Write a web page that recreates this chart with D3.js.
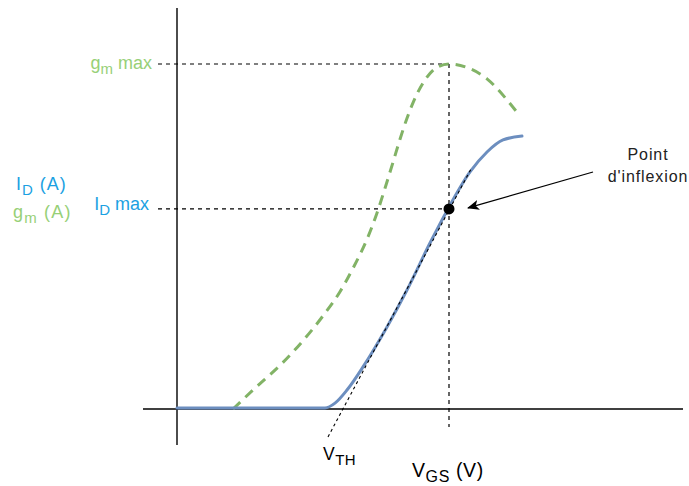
<!DOCTYPE html>
<html>
<head>
<meta charset="utf-8">
<script src="https://cdn.jsdelivr.net/npm/d3@7"></script>
<style>
  html, body { margin: 0; padding: 0; background: #fff; }
  svg { display: block; font-family: "Liberation Sans", Arial, Helvetica, sans-serif; }
</style>
</head>
<body>
<svg id="chart" width="689" height="486"></svg>
<script>
// ---- data (VGS in arbitrary volts, currents normalised to gm max = 1) ----
const gmVgs = [1.12, 1.52, 2.12, 2.52, 2.92, 3.26, 3.52, 3.80, 4.00, 4.16, 4.32, 4.46, 4.60, 4.80, 5.00, 5.22, 5.44, 5.80, 6.20, 6.60, 6.86];
const gmVal = [0.000, 0.055, 0.135, 0.198, 0.270, 0.340, 0.408, 0.492, 0.568, 0.640, 0.715, 0.782, 0.843, 0.913, 0.962, 0.992, 1.000, 0.990, 0.957, 0.896, 0.849];

const idVgs = [0.00, 1.46, 2.96, 3.16, 3.40, 3.72, 4.20, 4.60, 5.06, 5.42, 5.86, 6.20, 6.52, 6.90];
const idVal = [0.003, 0.003, 0.003, 0.017, 0.055, 0.122, 0.238, 0.345, 0.481, 0.580, 0.687, 0.745, 0.780, 0.791];

const gmMax = 1.0;            // gm max level
const idAtInflexion = 0.58;   // ID max (inflexion point)
const vgsInflexion = 5.44;    // VGS at inflexion / gm max
const tangentVgs = [3.02, 5.90];
const tangentVal = [-0.081, 0.701];

const labels = {
  gmMax: ["g", "m", " max"],
  idMax: ["I", "D", " max"],
  idAxis: ["I", "D", " (A)"],
  gmAxis: ["g", "m", " (A)"],
  vth: ["V", "TH", ""],
  vgs: ["V", "GS", " (V)"],
  point: ["Point", "d'inflexion"]
};

// ---- scales ----
const x = d3.scaleLinear().domain([0, 10]).range([177, 677]);
const y = d3.scaleLinear().domain([0, 1]).range([409, 64]);

const svg = d3.select("#chart");

const green = "#82b366", greenText = "#97d077";
const blue = "#6c8ebf", blueText = "#1ba1e2";

// ---- axes (plain lines, no ticks) ----
svg.append("line").attr("x1", x(-0.68)).attr("x2", x(10.12))
  .attr("y1", y(0)).attr("y2", y(0)).attr("stroke", "#000").attr("stroke-width", 1.4);
svg.append("line").attr("x1", x(0)).attr("x2", x(0))
  .attr("y1", y(1.162)).attr("y2", y(-0.104)).attr("stroke", "#000").attr("stroke-width", 1.4);

// ---- reference dashed lines ----
const refDash = "4,4";
svg.append("line").attr("x1", x(-0.38)).attr("x2", x(vgsInflexion))
  .attr("y1", y(gmMax)).attr("y2", y(gmMax))
  .attr("stroke", "#000").attr("stroke-width", 1.2).attr("stroke-dasharray", refDash);
svg.append("line").attr("x1", x(-0.38)).attr("x2", x(vgsInflexion))
  .attr("y1", y(idAtInflexion)).attr("y2", y(idAtInflexion))
  .attr("stroke", "#000").attr("stroke-width", 1.2).attr("stroke-dasharray", refDash);
svg.append("line").attr("x1", x(vgsInflexion)).attr("x2", x(vgsInflexion))
  .attr("y1", y(gmMax)).attr("y2", y(-0.052))
  .attr("stroke", "#000").attr("stroke-width", 1.2).attr("stroke-dasharray", refDash);

// ---- curves ----
const line = d3.line().x(d => x(d[0])).y(d => y(d[1])).curve(d3.curveMonotoneX);

svg.append("path").datum(gmVgs.map((v, i) => [v, gmVal[i]]))
  .attr("d", line).attr("fill", "none").attr("stroke", green)
  .attr("stroke-width", 3).attr("stroke-dasharray", "10,7");

svg.append("path").datum(idVgs.map((v, i) => [v, idVal[i]]))
  .attr("d", line).attr("fill", "none").attr("stroke", blue)
  .attr("stroke-width", 3).attr("stroke-linecap", "round");

// tangent
svg.append("line").attr("x1", x(tangentVgs[0])).attr("x2", x(tangentVgs[1]))
  .attr("y1", y(tangentVal[0])).attr("y2", y(tangentVal[1]))
  .attr("stroke", "#000").attr("stroke-width", 1.1).attr("stroke-dasharray", "3,3");

// inflexion point
svg.append("circle").attr("cx", x(vgsInflexion)).attr("cy", y(idAtInflexion))
  .attr("r", 5.5).attr("fill", "#000");

// ---- arrow ----
svg.append("defs").append("marker").attr("id", "arr")
  .attr("viewBox", "0 0 12 10").attr("refX", 11).attr("refY", 5)
  .attr("markerWidth", 12).attr("markerHeight", 10).attr("markerUnits", "userSpaceOnUse")
  .attr("orient", "auto")
  .append("path").attr("d", "M0,0 L12,5 L0,10 L3,5 Z").attr("fill", "#000");
svg.append("line").attr("x1", 593).attr("y1", 172)
  .attr("x2", x(vgsInflexion) + 19).attr("y2", y(idAtInflexion) - 1)
  .attr("stroke", "#000").attr("stroke-width", 1.2).attr("marker-end", "url(#arr)");

// ---- text ----
function subText(parts, px, py, anchor, color, size, subSize, spacing) {
  const t = svg.append("text").attr("x", px).attr("y", py)
    .attr("text-anchor", anchor).attr("fill", color).attr("font-size", size)
    .attr("letter-spacing", spacing || 0);
  t.append("tspan").text(parts[0]);
  t.append("tspan").attr("font-size", subSize).attr("dy", 5).text(parts[1]);
  if (parts[2]) t.append("tspan").attr("dy", -5).text(parts[2]);
  return t;
}

subText(labels.gmMax, 152, y(gmMax) + 5, "end", greenText, 18, 15, 0);
subText(labels.idMax, 149, y(idAtInflexion) + 1, "end", blueText, 18, 15, 0);
subText(labels.idAxis, 16, 190, "start", blueText, 18, 15, 1);
subText(labels.gmAxis, 13, 218, "start", greenText, 18, 15, 1.2);
subText(labels.vth, 323, 460, "start", "#000", 17.5, 15, 0.5);
subText(labels.vgs, 412, 477, "start", "#000", 19.5, 16, 0.6);

svg.append("text").attr("x", 648).attr("y", 160).attr("text-anchor", "middle")
  .attr("font-size", 16).attr("letter-spacing", 0.9).attr("fill", "#222").text(labels.point[0]);
svg.append("text").attr("x", 648).attr("y", 182).attr("text-anchor", "middle")
  .attr("font-size", 16).attr("letter-spacing", 0.9).attr("fill", "#222").text(labels.point[1]);
</script>
</body>
</html>
